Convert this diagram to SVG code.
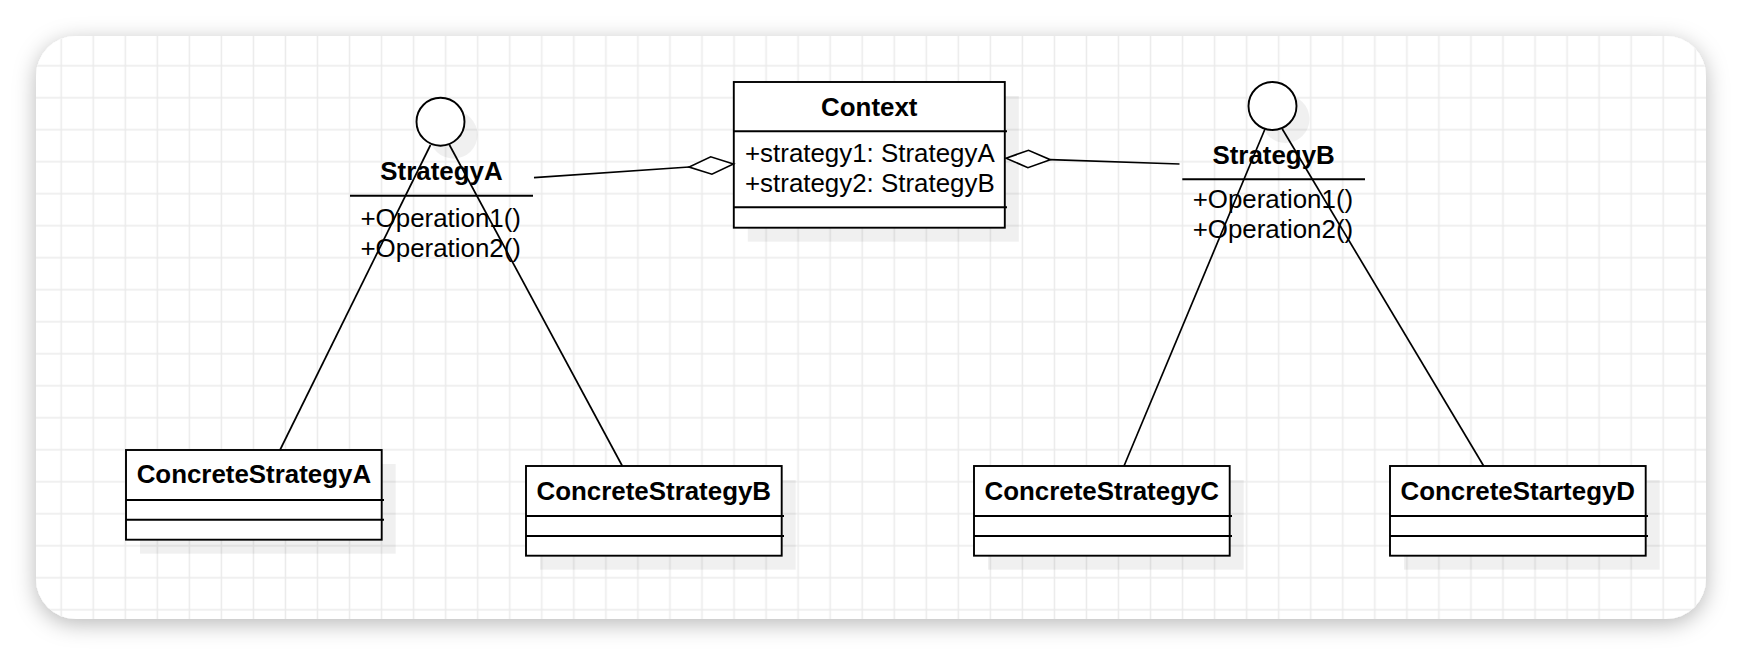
<svg xmlns="http://www.w3.org/2000/svg" width="1742" height="656" viewBox="0 0 1742 656">
<defs>
<style>
.t{font-family:"Liberation Sans",Arial,Helvetica,sans-serif;font-size:25.9px;fill:#000}
.b{font-weight:bold;text-anchor:middle}
.box{fill:#fff;stroke:#000;stroke-width:1.9}
.sh{fill:#000;fill-opacity:0.06}
.ln{stroke:#000;stroke-width:1.9;fill:none}
.cn{stroke:#000;stroke-width:1.7;fill:none}
.dm{fill:#fff;stroke:#000;stroke-width:1.7;stroke-linejoin:miter}
</style>
<filter id="cardShadow" x="-5%" y="-10%" width="110%" height="125%">
<feDropShadow dx="0" dy="5" stdDeviation="11" flood-color="#000" flood-opacity="0.28"/>
</filter>
<pattern id="grid" patternUnits="userSpaceOnUse" x="45.2" y="49.7" width="32.04" height="32">
<path d="M16 0V32M0 16H32.04" stroke="#ebebeb" stroke-width="1.5" fill="none"/>
</pattern>
<clipPath id="cardClip"><rect x="36" y="36" width="1670" height="583" rx="40" ry="40"/></clipPath>
</defs>
<rect width="1742" height="656" fill="#fff"/>
<g id="card">
<rect x="36" y="36" width="1670" height="583" rx="40" ry="40" fill="#fff" filter="url(#cardShadow)"/>
<rect x="36" y="36" width="1670" height="583" fill="url(#grid)" clip-path="url(#cardClip)"/>
</g>

<g id="StrategyA">
<circle cx="453.5" cy="134.7" r="24" class="sh"/>
<circle cx="440.5" cy="121.7" r="24" class="box"/>
<text class="t b" x="441.5" y="180">StrategyA</text>
<line x1="350" y1="195.7" x2="533" y2="195.7" class="ln"/>
<text class="t" x="360.5" y="226.7">+Operation1()</text>
<text class="t" x="360.5" y="256.7">+Operation2()</text>
</g>

<g id="StrategyB">
<circle cx="1285.5" cy="119" r="24" class="sh"/>
<circle cx="1272.5" cy="106" r="24" class="box"/>
<text class="t b" x="1273.6" y="164">StrategyB</text>
<line x1="1182.3" y1="179.3" x2="1365" y2="179.3" class="ln"/>
<text class="t" x="1192.7" y="208.3">+Operation1()</text>
<text class="t" x="1192.7" y="238.3">+Operation2()</text>
</g>

<g id="Context">
<rect x="747.8" y="96" width="271" height="145.7" class="sh"/>
<rect x="733.8" y="82" width="271" height="145.7" class="box"/>
<line x1="733.8" y1="131.3" x2="1007" y2="131.3" class="ln"/>
<line x1="733.8" y1="207.3" x2="1007" y2="207.3" class="ln"/>
<text class="t b" x="869.3" y="115.7">Context</text>
<text class="t" x="745" y="162.3">+strategy1: StrategyA</text>
<text class="t" x="745" y="192.3">+strategy2: StrategyB</text>
</g>

<g id="ConcreteStrategyA">
<rect x="140" y="464" width="255.7" height="89.7" class="sh"/>
<rect x="126" y="450" width="255.7" height="89.7" class="box"/>
<line x1="126" y1="500" x2="384" y2="500" class="ln"/>
<line x1="126" y1="519.7" x2="384" y2="519.7" class="ln"/>
<text class="t b" x="253.9" y="483.3">ConcreteStrategyA</text>
</g>

<g id="ConcreteStrategyB">
<rect x="540" y="480" width="255.7" height="89.7" class="sh"/>
<rect x="526" y="466" width="255.7" height="89.7" class="box"/>
<line x1="526" y1="516" x2="784" y2="516" class="ln"/>
<line x1="526" y1="536" x2="784" y2="536" class="ln"/>
<text class="t b" x="653.8" y="500">ConcreteStrategyB</text>
</g>

<g id="ConcreteStrategyC">
<rect x="988" y="480" width="255.7" height="89.7" class="sh"/>
<rect x="974" y="466" width="255.7" height="89.7" class="box"/>
<line x1="974" y1="516" x2="1232" y2="516" class="ln"/>
<line x1="974" y1="536" x2="1232" y2="536" class="ln"/>
<text class="t b" x="1101.8" y="500">ConcreteStrategyC</text>
</g>

<g id="ConcreteStartegyD">
<rect x="1404" y="480" width="255.7" height="89.7" class="sh"/>
<rect x="1390" y="466" width="255.7" height="89.7" class="box"/>
<line x1="1390" y1="516" x2="1648" y2="516" class="ln"/>
<line x1="1390" y1="536" x2="1648" y2="536" class="ln"/>
<text class="t b" x="1517.8" y="500">ConcreteStartegyD</text>
</g>

<g id="connectors">
<line x1="534" y1="177.7" x2="689.1" y2="167" class="cn"/>
<polygon points="733.5,164 710.7,156.8 689.1,167 711.9,174.2" class="dm"/>
<line x1="1179.5" y1="164" x2="1050.3" y2="159.7" class="cn"/>
<polygon points="1006,158.2 1028.5,150.3 1050.3,159.7 1027.9,167.7" class="dm"/>
<line x1="430.5" y1="145" x2="280" y2="450" class="cn"/>
<line x1="449.5" y1="145" x2="622.3" y2="466" class="cn"/>
<line x1="1265" y1="129" x2="1124" y2="466" class="cn"/>
<line x1="1282.3" y1="129" x2="1483.7" y2="466" class="cn"/>
</g>
</svg>
